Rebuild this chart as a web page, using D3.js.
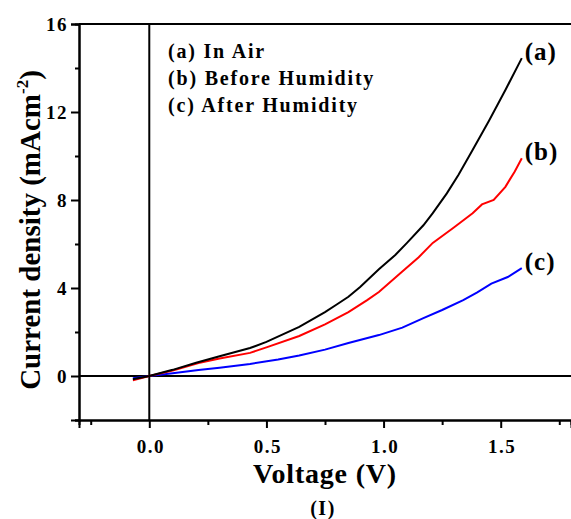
<!DOCTYPE html>
<html>
<head>
<meta charset="utf-8">
<script src="https://cdn.jsdelivr.net/npm/d3@7"></script>
<style>
  body { margin: 0; background: #fff; }
  text { font-family: "Liberation Serif", "DejaVu Serif", serif; font-weight: bold; }
</style>
</head>
<body>
<svg id="chart" width="571" height="519"></svg>
<script>
// values
const voltageA = [-0.07, 0, 0.1, 0.2, 0.3, 0.43, 0.5, 0.64, 0.75, 0.8, 0.85, 0.9, 0.98, 1.05, 1.1, 1.17, 1.21, 1.27, 1.32, 1.38, 1.45, 1.52, 1.59];
const currentA = [-0.15, 0, 0.28, 0.6, 0.9, 1.27, 1.55, 2.23, 2.9, 3.25, 3.6, 4.05, 4.85, 5.5, 6.05, 6.85, 7.4, 8.3, 9.15, 10.27, 11.6, 13.0, 14.45];

const voltageB = [-0.07, 0, 0.1, 0.21, 0.3, 0.43, 0.5, 0.64, 0.75, 0.85, 0.93, 0.98, 1.08, 1.15, 1.21, 1.3, 1.38, 1.42, 1.47, 1.52, 1.56, 1.59];
const currentB = [-0.2, 0, 0.25, 0.59, 0.8, 1.05, 1.3, 1.82, 2.35, 2.9, 3.45, 3.82, 4.75, 5.4, 6.05, 6.75, 7.4, 7.8, 8.0, 8.6, 9.3, 9.9];

const voltageC = [-0.07, 0, 0.1, 0.21, 0.3, 0.43, 0.55, 0.64, 0.75, 0.85, 0.98, 1.08, 1.17, 1.25, 1.34, 1.4, 1.46, 1.53, 1.59];
const currentC = [-0.1, 0, 0.12, 0.27, 0.38, 0.55, 0.75, 0.93, 1.2, 1.5, 1.86, 2.2, 2.63, 3.0, 3.45, 3.8, 4.2, 4.5, 4.9];

const seriesLabels = ["(a)", "(b)", "(c)"];
const legendLines = ["(a) In Air", "(b) Before Humidity", "(c) After Humidity"];
const xTicks = [0, 0.5, 1.0, 1.5];
const xMinor = [-0.25, 0.25, 0.75, 1.25, 1.75];
const yTicks = [0, 4, 8, 12, 16];
const yMinor = [-2, 2, 6, 10, 14];

const svg = d3.select('#chart');
const plotLeft = 79, plotRight = 571, plotTop = 24, plotBottom = 420;

const x = d3.scaleLinear().domain([-0.3, 1.8]).range([plotLeft, plotRight]);
const y = d3.scaleLinear().domain([-2, 16]).range([plotBottom, plotTop]);

// frame: left, bottom, top (right side runs off the picture)
svg.append('line').attr('x1', plotLeft).attr('x2', plotRight).attr('y1', plotTop).attr('y2', plotTop)
  .attr('stroke', '#000').attr('stroke-width', 2);

// axes
const xAxis = svg.append('g').attr('transform', `translate(0,${plotBottom})`)
  .call(d3.axisBottom(x).tickValues(xTicks).tickFormat(d3.format('.1f')).tickSizeOuter(0).tickSize(8).tickPadding(12));
const xAxisMinor = svg.append('g').attr('transform', `translate(0,${plotBottom})`)
  .call(d3.axisBottom(x).tickValues(xMinor).tickFormat('').tickSizeOuter(0).tickSize(5));
const yAxis = svg.append('g').attr('transform', `translate(${plotLeft},0)`)
  .call(d3.axisLeft(y).tickValues(yTicks).tickSizeOuter(0).tickSize(8).tickPadding(3));
const yAxisMinor = svg.append('g').attr('transform', `translate(${plotLeft},0)`)
  .call(d3.axisLeft(y).tickValues(yMinor).tickFormat('').tickSizeOuter(0).tickSize(4));

[xAxis, xAxisMinor, yAxis, yAxisMinor].forEach(g => {
  g.select('.domain').attr('stroke-width', 2);
  g.selectAll('.tick line').attr('stroke-width', 2);
  g.selectAll('.tick text').attr('font-size', 19).attr('letter-spacing', 1.5)
    .attr('font-family', '"Liberation Serif", serif').attr('font-weight', 'bold');
});
yAxis.selectAll('.tick text').attr('dy', '0.34em');
xAxis.selectAll('.tick text').attr('dx', 1);

// zero lines
svg.append('line').attr('x1', x(0)).attr('x2', x(0)).attr('y1', plotTop).attr('y2', plotBottom)
  .attr('stroke', '#000').attr('stroke-width', 2);
svg.append('line').attr('x1', plotLeft).attr('x2', plotRight).attr('y1', y(0)).attr('y2', y(0))
  .attr('stroke', '#000').attr('stroke-width', 2);

// curves
const line = d3.line().x(d => x(d[0])).y(d => y(d[1]));
const series = [
  { v: voltageA, c: currentA, color: '#000000' },
  { v: voltageB, c: currentB, color: '#ff0000' },
  { v: voltageC, c: currentC, color: '#0000ff' }
];
// draw c, then b, then a
series.slice().reverse().forEach(s => {
  svg.append('path')
    .datum(s.v.map((v, i) => [v, s.c[i]]))
    .attr('fill', 'none')
    .attr('stroke', s.color)
    .attr('stroke-width', 2)
    .attr('d', line);
});

// end labels
series.forEach((s, i) => {
  const n = s.v.length - 1;
  svg.append('text')
    .attr('x', x(s.v[n]) + 3)
    .attr('y', y(s.c[n]) + 2)
    .attr('font-size', 25)
    .attr('letter-spacing', 1)
    .text(seriesLabels[i]);
});

// legend
legendLines.forEach((t, i) => {
  svg.append('text')
    .attr('x', 168)
    .attr('y', 58 + i * 27)
    .attr('font-size', 20)
    .attr('letter-spacing', 1.8)
    .text(t);
});

// axis titles
svg.append('text')
  .attr('x', 325).attr('y', 483)
  .attr('text-anchor', 'middle')
  .attr('font-size', 28)
  .attr('letter-spacing', 0.8)
  .text('Voltage (V)');

const yTitle = svg.append('text')
  .attr('transform', 'translate(40,230) rotate(-90)')
  .attr('text-anchor', 'middle')
  .attr('font-size', 29);
yTitle.append('tspan').text('Current density (mAcm');
yTitle.append('tspan').attr('font-size', 17).attr('dy', -12).text('-2');
yTitle.append('tspan').attr('dy', 12).text(')');

svg.append('text')
  .attr('x', 323).attr('y', 515)
  .attr('text-anchor', 'middle')
  .attr('font-size', 20)
  .attr('letter-spacing', 1.5)
  .text('(I)');
</script>
</body>
</html>
